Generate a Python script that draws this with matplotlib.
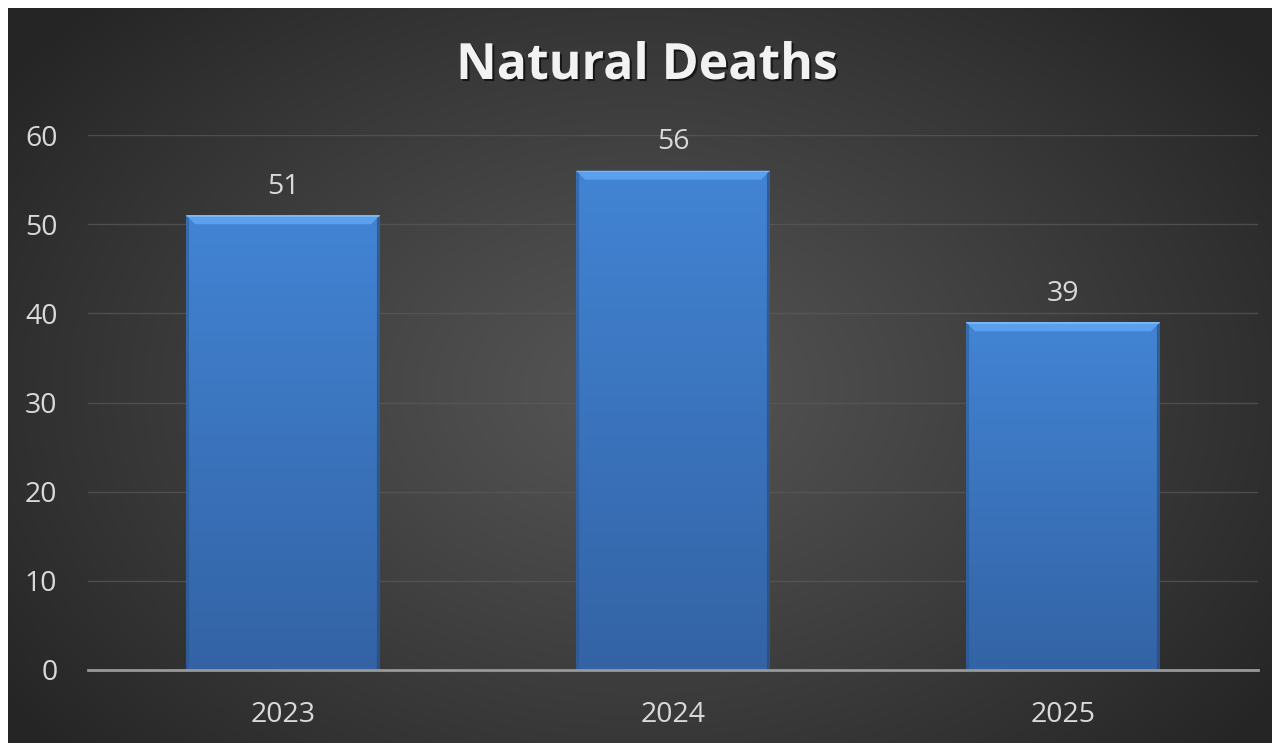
import numpy as np
import matplotlib
matplotlib.use("Agg")
import matplotlib.pyplot as plt
import matplotlib.patheffects as pe
from matplotlib.patches import Polygon

years = ["2023", "2024", "2025"]
deaths = [51, 56, 39]
yticks = [0, 10, 20, 30, 40, 50, 60]

plt.rcParams['font.family'] = ['Open Sans', 'DejaVu Sans']

W, H = 1272, 743
fig = plt.figure(figsize=(W / 100, H / 100), dpi=100, facecolor="white")

# dark panel with radial gradient
bg = fig.add_axes([8 / W, 0, 1 - 8 / W, 1 - 8 / H])
bg.set_axis_off()
yy, xx = np.mgrid[0:1:300j, 0:1:500j]
r = np.sqrt(((xx - 0.5) / 0.62) ** 2 + ((yy - 0.48) / 0.75) ** 2)
r = np.clip(r, 0, 1)
c0 = np.array([0x55, 0x55, 0x55]) / 255
c1 = np.array([0x25, 0x25, 0x25]) / 255
img = c0[None, None, :] * (1 - r[..., None] ** 1.1) + c1[None, None, :] * (r[..., None] ** 1.1)
bg.imshow(img, extent=[0, 1, 0, 1], aspect="auto", origin="lower")
bg.set_xlim(0, 1)
bg.set_ylim(0, 1)

ax = fig.add_axes([88 / W, 73 / H, (1258 - 88) / W, (670 - 135) / H])
ax.set_facecolor("none")
ax.set_xlim(-0.5, 2.5)
ax.set_ylim(0, 60)

x = np.arange(len(years))
width = 0.497
bars = ax.bar(x, deaths, width=width, color="none", zorder=3)

grad = np.linspace(0, 1, 256)[:, None]
top_c = np.array([0x42, 0x84, 0xd4]) / 255
bot_c = np.array([0x33, 0x63, 0xa5]) / 255
gimg = top_c[None, None, :] * (1 - grad[..., None]) + bot_c[None, None, :] * grad[..., None]
gimg = gimg.repeat(2, axis=1)

# pixel scale for the bevel
px_x = 3 / (1258 - 88)
px_y = 60 / (670 - 135)
for b, v in zip(bars, deaths):
    x0 = b.get_x()
    x1 = x0 + b.get_width()
    im = ax.imshow(gimg, extent=[x0, x1, 0, v], aspect="auto", origin="upper", zorder=3)
    im.set_clip_path(b)
    bw = 9
    # top bevel
    ax.add_patch(Polygon([[x0, v], [x1, v], [x1 - bw * px_x, v - bw * px_y], [x0 + bw * px_x, v - bw * px_y]],
                         closed=True, facecolor="#5aa0ec", edgecolor="none", zorder=4))
    ax.add_patch(Polygon([[x0, v - 0.15], [x1, v - 0.15], [x1, v], [x0, v]],
                         closed=True, facecolor="#7ab6f2", edgecolor="none", zorder=4))
    # side shading
    ax.add_patch(Polygon([[x1, v], [x1 - 3 * px_x, v - 3 * px_y], [x1 - 3 * px_x, 0], [x1, 0]],
                         closed=True, facecolor="#24466f", alpha=0.6, edgecolor="none", zorder=4))
    ax.add_patch(Polygon([[x0, v], [x0 + 3 * px_x, v - 3 * px_y], [x0 + 3 * px_x, 0], [x0, 0]],
                         closed=True, facecolor="#2a5386", alpha=0.5, edgecolor="none", zorder=4))
    ax.text(b.get_x() + b.get_width() / 2, v + 3.2, str(v), ha="center", va="center",
            fontsize=20.5, color="#d9d9d9", zorder=5)

ax.set_yticks(yticks)
ax.set_xticks(x)
ax.set_xticklabels(years)
ax.tick_params(axis="both", length=0, labelsize=20.5, colors="#d9d9d9")
ax.tick_params(axis="y", pad=22)
ax.tick_params(axis="x", pad=22)
ax.grid(axis="y", color="#5a5a5a", linewidth=1, alpha=0.7, zorder=1)
for s in ["top", "right", "left"]:
    ax.spines[s].set_visible(False)
ax.spines["bottom"].set_color("#999999")
ax.spines["bottom"].set_linewidth(2)
ax.spines["bottom"].set_zorder(6)

fig.text(647 / W, 1 - 66 / H, "Natural Deaths", ha="center", va="center", fontsize=36,
         fontweight="bold", color="#f2f2f2",
         path_effects=[pe.withSimplePatchShadow(offset=(1.5, -1.5), shadow_rgbFace="black", alpha=0.6)])

fig.savefig("out.png", dpi=100, facecolor="white")
